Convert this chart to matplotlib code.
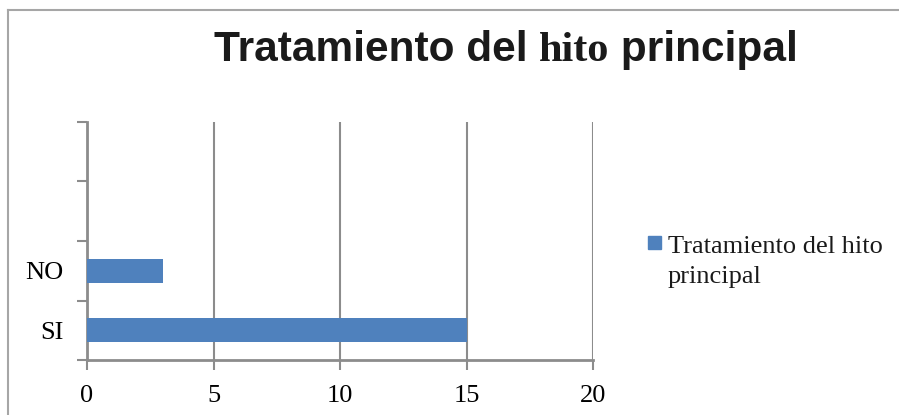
import matplotlib
matplotlib.use('Agg')
import matplotlib.pyplot as plt
from matplotlib.lines import Line2D
from matplotlib.patches import Rectangle

# Datos del grafico
categorias = ['SI', 'NO']
valores = [15, 3]
n_huecos = 4  # el eje tiene 4 categorias, dos vacias arriba
xticks = [0, 5, 10, 15, 20]
titulo = ['Tratamiento del ', 'hito', ' principal']
serie = ['Tratamiento del hito', 'principal']

AZUL = '#4F81BD'
GRIS = '#8C8C8C'
W, H = 899, 415

fig = plt.figure(figsize=(W / 100, H / 100), dpi=100)
ax = fig.add_axes([87 / W, 55 / H, 506 / W, 238 / H])

ax.barh(range(len(categorias)), valores, height=0.4, color=AZUL, zorder=3)

ax.set_xlim(0, 20)
ax.set_ylim(-0.5, n_huecos - 0.5)
ax.set_xticks(xticks)
ax.set_xticklabels([str(v) for v in xticks], family='Liberation Serif', fontsize=19)
ax.set_yticks([i - 0.5 for i in range(n_huecos + 1)])
ax.set_yticklabels([])
ax.set_yticks(range(len(categorias)), minor=True)
ax.set_yticklabels(categorias, minor=True, family='Liberation Serif', fontsize=19)
ax.tick_params(axis='y', which='minor', length=0, pad=17)
ax.tick_params(axis='y', which='major', length=7, width=1.5, color=GRIS)
ax.tick_params(axis='x', length=7, width=1.5, color=GRIS, pad=11)

ax.grid(axis='x', color=GRIS, linewidth=1.5, zorder=0)
for lado in ['top', 'right']:
    ax.spines[lado].set_visible(False)
for lado in ['left', 'bottom']:
    ax.spines[lado].set_color(GRIS)
    ax.spines[lado].set_linewidth(2)

# borde del area del grafico (solo izquierda y arriba visibles)
fig.add_artist(Line2D([8 / W, 8 / W], [0, 1 - 10 / H], color='#A6A6A6', lw=1.5))
fig.add_artist(Line2D([8 / W, 1], [1 - 10 / H, 1 - 10 / H], color='#A6A6A6', lw=1.5))

# titulo con "hito" en serif como en el original
fuentes = ['Liberation Sans', 'Liberation Serif', 'Liberation Sans']
fig.canvas.draw()
r = fig.canvas.get_renderer()
x = 0
piezas = []
for txt, fam in zip(titulo, fuentes):
    t = fig.text(x, 1 - 61 / H, txt, family=fam, fontsize=30.5, fontweight='bold',
                 va='baseline', ha='left', color='#1A1A1A')
    ancho = t.get_window_extent(r).width
    piezas.append((t, x))
    x += ancho / W
inicio = 506 / W - x / 2
for t, x0 in piezas:
    t.set_x(x0 + inicio)

# leyenda
fig.add_artist(Rectangle((648 / W, 1 - 249 / H), 13 / W, 13 / H,
                         transform=fig.transFigure, color=AZUL))
for i, linea in enumerate(serie):
    fig.text(668 / W, 1 - (253 + 30 * i) / H, linea, family='Liberation Serif',
             fontsize=19, va='baseline', ha='left', color='#1A1A1A')

fig.savefig('out.png', dpi=100)
